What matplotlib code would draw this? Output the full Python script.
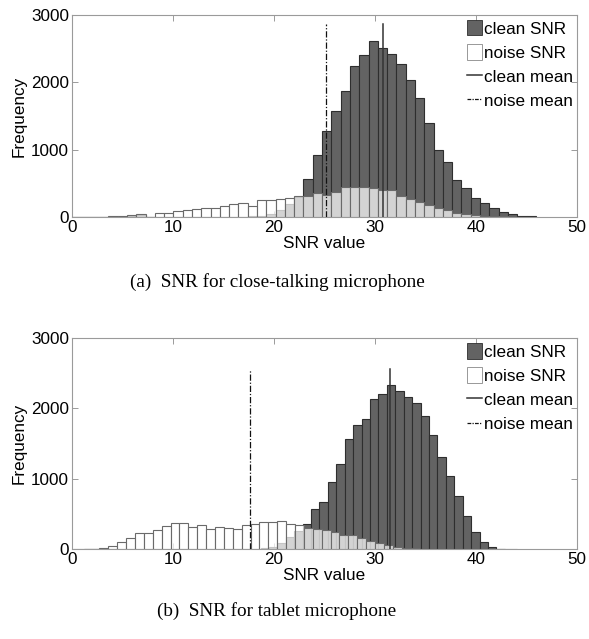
import numpy as np
import matplotlib
matplotlib.use("Agg")
import matplotlib.pyplot as plt
from matplotlib.patches import Patch
from matplotlib.lines import Line2D

# ---------------- data ----------------
# (a) close-talking microphone: shared bins
a_bin_start = -0.08
a_bin_width = 0.92
a_clean = [2, 3, 2, 4, 5, 6, 15, 25, 0, 0,
           0, 0, 0, 0, 0, 0, 0, 0, 0, 10,
           20, 50, 110, 189, 300, 571, 928, 1274, 1572, 1869,
           2236, 2404, 2613, 2504, 2415, 2275, 2028, 1770, 1389, 992,
           818, 556, 437, 283, 204, 140, 70, 50, 21, 10]
a_noise = [3, 5, 2, 6, 8, 10, 25, 40, 0, 65,
           65, 85, 100, 114, 129, 129, 170, 187, 202, 157,
           246, 246, 263, 283, 305, 312, 363, 327, 378, 452,
           452, 452, 437, 397, 397, 308, 265, 230, 180, 137,
           100, 65, 50, 35, 22, 12, 8, 5, 3, 2]
a_clean_mean = 30.76
a_noise_mean = 25.18
a_line_top = 2870

# (b) tablet microphone: separate bins
b_clean_start = 1.15
b_clean_width = 0.834
b_clean = [0, 0, 0, 0, 0, 0, 0, 0, 0, 0,
           0, 0, 0, 0, 0, 0, 0, 0, 0, 0,
           5, 12, 30, 90, 175, 260, 356, 565, 674, 949,
           1210, 1562, 1766, 1851, 2131, 2207, 2331, 2245, 2155, 2079,
           1889, 1619, 1315, 1040, 760, 475, 242, 95, 33, 5]
b_noise_start = 0.08
b_noise_width = 0.88
b_noise = [2, 4, 5, 10, 43, 95, 152, 223, 223, 275,
           330, 366, 366, 309, 340, 290, 309, 294, 280, 342,
           356, 380, 380, 395, 360, 342, 300, 280, 275, 247,
           199, 199, 161, 114, 90, 57, 33, 14, 8, 5,
           3, 2, 2, 1, 1, 1, 1, 0, 0, 0]
b_clean_mean = 31.5
b_noise_mean = 17.6
b_line_top = 2560

xticks = [0, 10, 20, 30, 40, 50]
yticks = [0, 1000, 2000, 3000]
legend_labels = ["clean SNR", "noise SNR", "clean mean", "noise mean"]
captions = ["(a)  SNR for close-talking microphone", "(b)  SNR for tablet microphone"]

# ---------------- style ----------------
SANS = ["Liberation Sans", "DejaVu Sans"]
SERIF = ["Liberation Serif", "DejaVu Serif"]
CLEAN_FC = "#636363"
CLEAN_EC = "#2e2e2e"
NOISE_EC = "#6a6a6a"
SPINE = "#9a9a9a"
FS = 12.3

fig = plt.figure(figsize=(5.89, 6.39), dpi=100)
W, H = 589.0, 639.0
ax_a = fig.add_axes([72 / W, 1 - 217 / H, 505 / W, 202 / H])
ax_b = fig.add_axes([72 / W, 1 - 549 / H, 505 / W, 211 / H])


def draw(ax, c_start, c_w, clean, n_start, n_w, noise, cmean, nmean, ltop):
    clean = np.asarray(clean, float)
    noise = np.asarray(noise, float)
    cx = c_start + c_w * np.arange(len(clean))
    nx = n_start + n_w * np.arange(len(noise))
    ax.bar(cx, clean, width=c_w, align="edge", color=CLEAN_FC,
           edgecolor=CLEAN_EC, linewidth=0.8, zorder=2)
    ax.bar(nx, noise, width=n_w, align="edge", color=(1, 1, 1, 0.72),
           edgecolor=NOISE_EC, linewidth=0.8, zorder=3)
    ax.plot([cmean, cmean], [0, ltop], color="#333333", lw=1.1, zorder=4)
    ax.plot([nmean, nmean], [0, ltop], color="#111111", lw=0.9,
            linestyle=(0, (5, 1.5, 1, 1.5)), zorder=4)
    ax.set_xlim(0, 50)
    ax.set_ylim(0, 3000)
    ax.set_xticks(xticks)
    ax.set_yticks(yticks)
    ax.set_xticklabels([str(t) for t in xticks], family=SANS, fontsize=FS)
    ax.set_yticklabels([str(t) for t in yticks], family=SANS, fontsize=FS)
    ax.tick_params(direction="in", length=4, width=0.7, color=SPINE,
                   top=True, right=True, pad=2)
    for s in ax.spines.values():
        s.set_color(SPINE)
        s.set_linewidth(0.8)
    ax.set_xlabel("SNR value", family=SANS, fontsize=FS, labelpad=1)
    ax.set_ylabel("Frequency", family=SANS, fontsize=FS)
    ax.yaxis.set_label_coords(-0.09, 0.5)

    handles = [
        Patch(facecolor=CLEAN_FC, edgecolor=CLEAN_EC, linewidth=0.6),
        Patch(facecolor="white", edgecolor="#888888", linewidth=0.6),
        Line2D([0], [0], color="#333333", lw=1.1),
        Line2D([0], [0], color="#111111", lw=0.9, linestyle=(0, (3, 1, 1, 1))),
    ]
    leg = ax.legend(handles, legend_labels, loc="upper left",
                    bbox_to_anchor=(0.782, 0.975), frameon=False,
                    prop={"family": SANS, "size": FS}, handlelength=0.9,
                    handleheight=1.0, handletextpad=0.1, labelspacing=0.45,
                    borderpad=0, borderaxespad=0)
    leg.set_zorder(6)


draw(ax_a, a_bin_start, a_bin_width, a_clean, a_bin_start, a_bin_width, a_noise,
     a_clean_mean, a_noise_mean, a_line_top)
draw(ax_b, b_clean_start, b_clean_width, b_clean, b_noise_start, b_noise_width, b_noise,
     b_clean_mean, b_noise_mean, b_line_top)

fig.text(277 / W, 1 - 282 / H, captions[0], family=SERIF, fontsize=13.8,
         ha="center", va="center")
fig.text(277 / W, 1 - 611 / H, captions[1], family=SERIF, fontsize=13.8,
         ha="center", va="center")

fig.savefig("out.png", dpi=100)
